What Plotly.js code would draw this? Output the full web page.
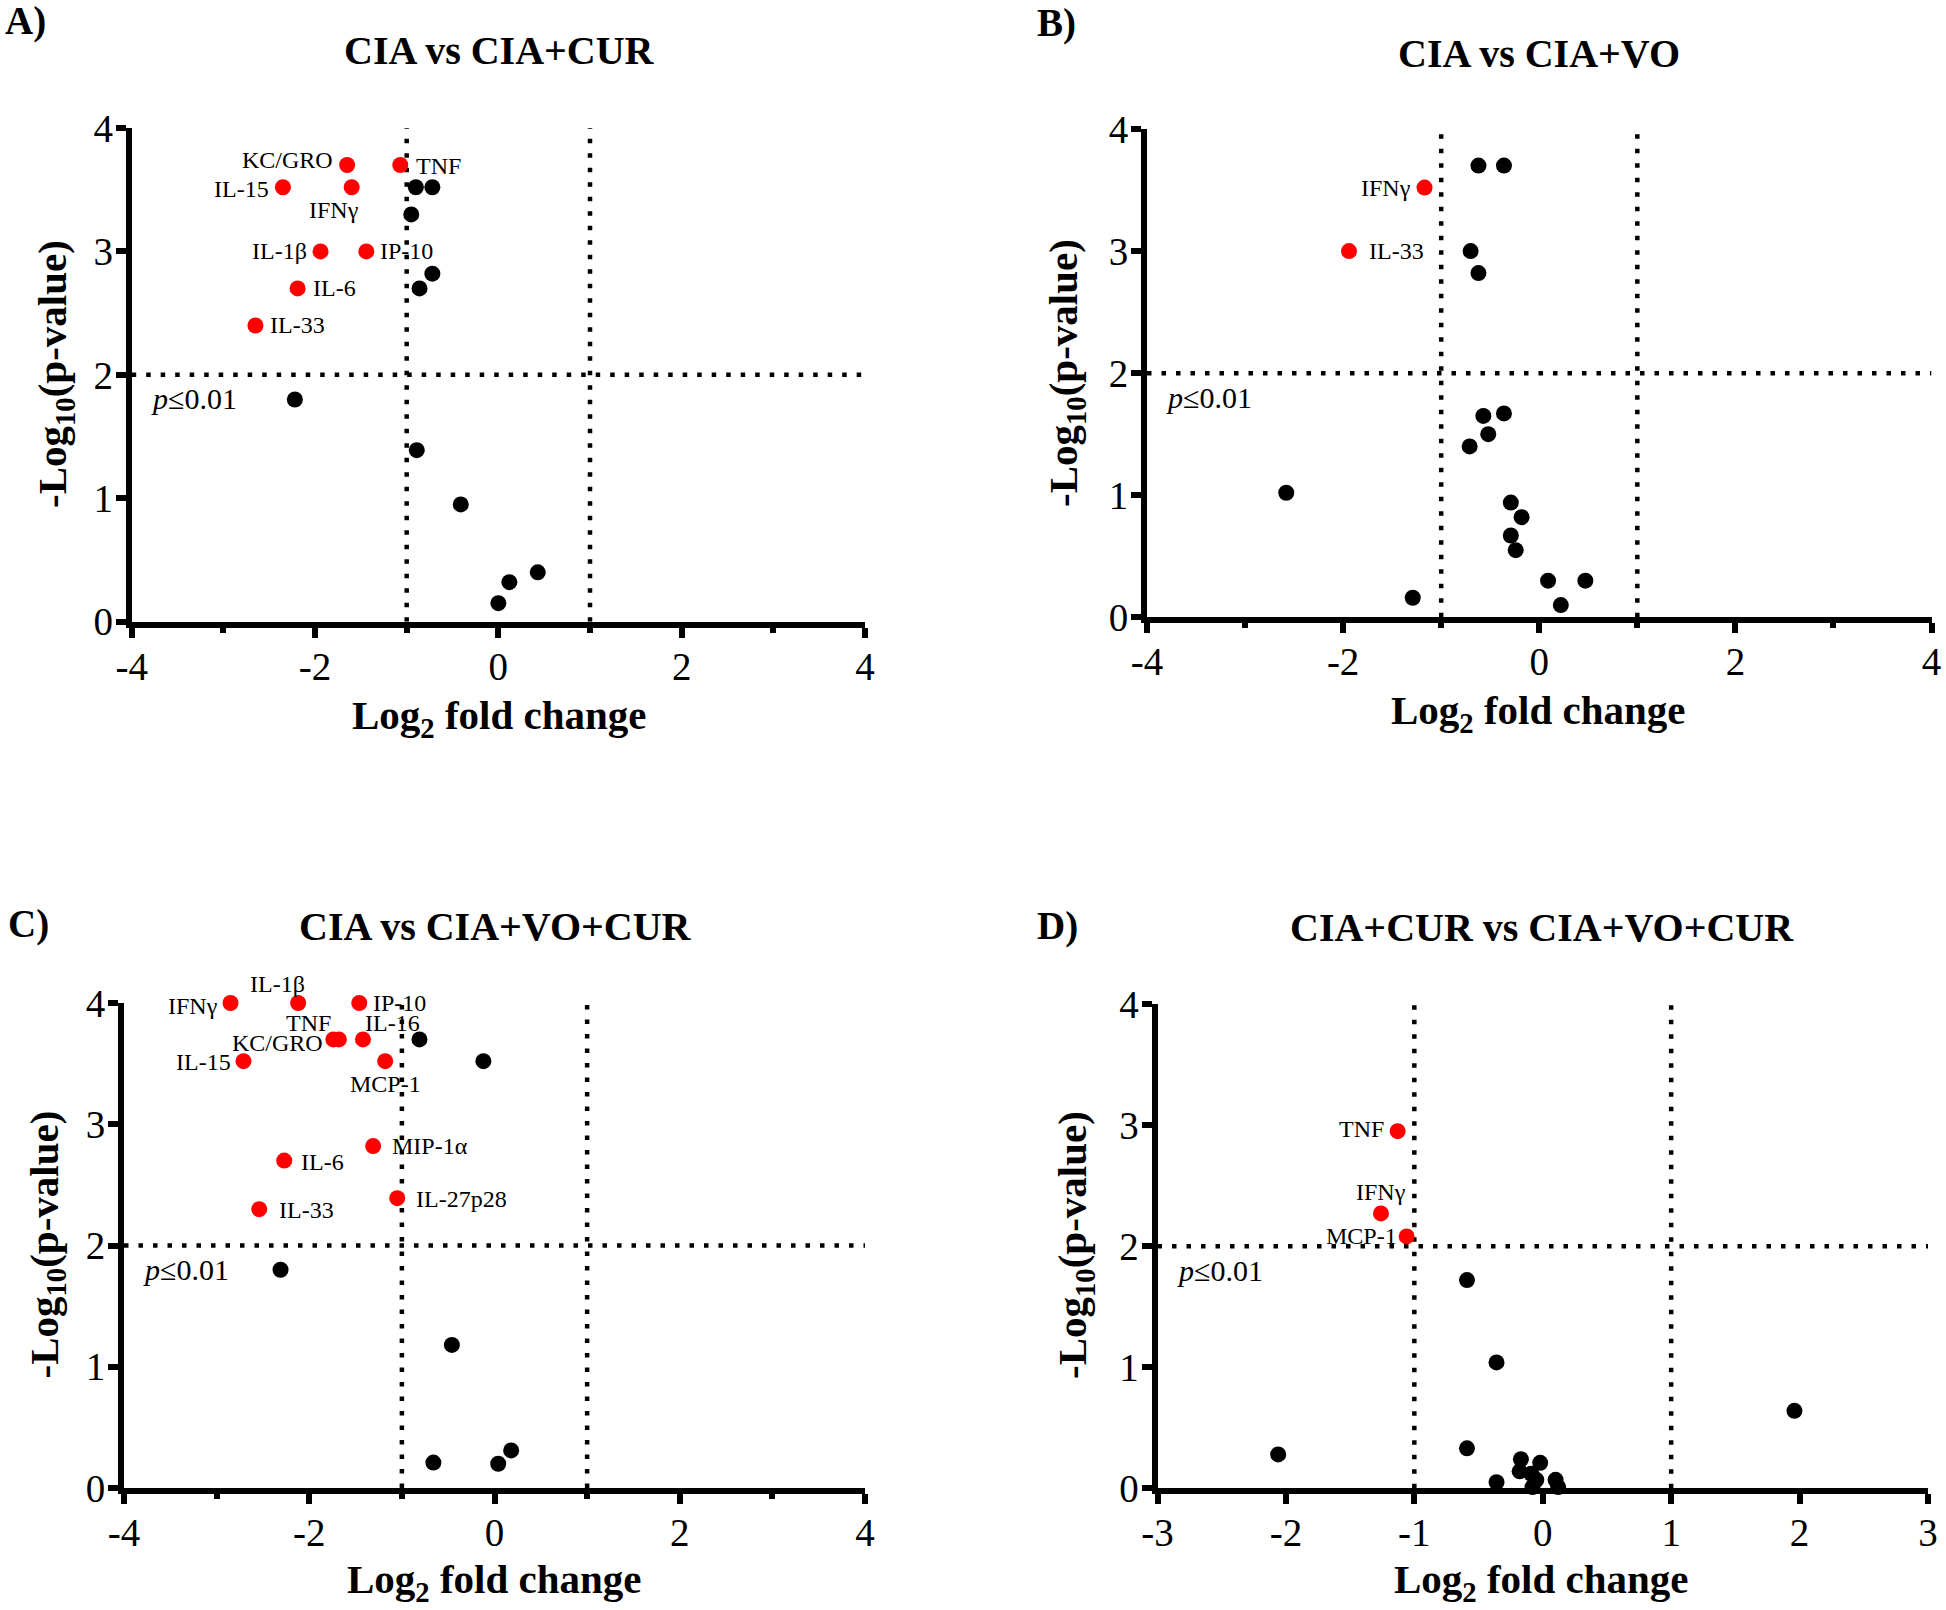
<!DOCTYPE html>
<html>
<head>
<meta charset="utf-8">
<script src="https://cdn.plot.ly/plotly-3.0.1.min.js"></script>
<style>
  html, body { margin: 0; padding: 0; background: #fff; }
  #chart { width: 1946px; height: 1610px; }
</style>
</head>
<body>
<div id="chart"></div>
<script>
'use strict';

// A) CIA vs CIA+CUR
var aSigNames = ['KC/GRO', 'TNF', 'IL-15', 'IFNγ', 'IL-1β', 'IP-10', 'IL-6', 'IL-33'];
var aSigFC = [-1.65, -1.07, -2.35, -1.60, -1.94, -1.44, -2.19, -2.65];
var aSigP = [3.70, 3.70, 3.52, 3.52, 3.00, 3.00, 2.70, 2.40];
var aNsFC = [-0.90, -0.72, -0.95, -0.72, -0.86, -2.22, -0.89, -0.41, 0.43, 0.12, 0.00];
var aNsP = [3.52, 3.52, 3.30, 2.82, 2.70, 1.80, 1.39, 0.95, 0.40, 0.32, 0.15];

// B) CIA vs CIA+VO
var bSigNames = ['IFNγ', 'IL-33'];
var bSigFC = [-1.17, -1.94];
var bSigP = [3.52, 3.00];
var bNsFC = [-0.62, -0.36, -0.70, -0.62, -0.57, -0.36, -0.52, -0.71, -2.58, -0.29, -0.18, -0.29, -0.24, 0.09, 0.47, 0.22, -1.29];
var bNsP = [3.70, 3.70, 3.00, 2.82, 1.65, 1.67, 1.50, 1.40, 1.02, 0.94, 0.82, 0.67, 0.55, 0.30, 0.30, 0.10, 0.16];

// C) CIA vs CIA+VO+CUR
var cSigNames = ['IFNγ', 'IL-1β', 'IP-10', 'TNF', 'KC/GRO', 'IL-16', 'IL-15', 'MCP-1', 'MIP-1α', 'IL-6', 'IL-27p28', 'IL-33'];
var cSigFC = [-2.85, -2.12, -1.46, -1.68, -1.74, -1.42, -2.71, -1.18, -1.31, -2.27, -1.05, -2.54];
var cSigP = [4.00, 4.00, 4.00, 3.70, 3.70, 3.70, 3.52, 3.52, 2.82, 2.70, 2.39, 2.30];
var cNsFC = [-0.81, -0.12, -2.31, -0.46, -0.66, 0.04, 0.18];
var cNsP = [3.70, 3.52, 1.80, 1.18, 0.21, 0.20, 0.31];

// D) CIA+CUR vs CIA+VO+CUR
var dSigNames = ['TNF', 'IFNγ', 'MCP-1'];
var dSigFC = [-1.13, -1.26, -1.06];
var dSigP = [2.95, 2.27, 2.08];
var dNsFC = [-0.59, -0.36, 1.96, -2.06, -0.59, -0.17, -0.02, -0.18, -0.09, -0.05, -0.08, 0.10, 0.12, -0.36];
var dNsP = [1.72, 1.04, 0.64, 0.28, 0.33, 0.24, 0.21, 0.14, 0.12, 0.07, 0.01, 0.07, 0.01, 0.05];

// tick labels (hyphen minus as in the original figure)
var xTicksWide = [-4, -2, 0, 2, 4];
var xTicksWideText = ['-4', '-2', '0', '2', '4'];
var xTicksNarrow = [-3, -2, -1, 0, 1, 2, 3];
var xTicksNarrowText = ['-3', '-2', '-1', '0', '1', '2', '3'];
var yTicks = [0, 1, 2, 3, 4];
var yTicksText = ['0', '1', '2', '3', '4'];

var panelTitles = ['CIA vs CIA+CUR', 'CIA vs CIA+VO', 'CIA vs CIA+VO+CUR', 'CIA+CUR vs CIA+VO+CUR'];
var panelLetters = ['A)', 'B)', 'C)', 'D)'];

var W = 1946, H = 1610;
var RED = '#ff0000';
var FONT = 'Liberation Serif, Times New Roman, serif';

// label placement for each significant point: anchor, x shift, y shift (pixels)
var labelPos = [
  [['right', -12, 5], ['left', 14, -1], ['right', -12, -2], ['center', -18, -23],
   ['right', -12, 0], ['left', 12, 0], ['left', 13, 0], ['left', 13, 0]],
  [['right', -12, 0], ['left', 18, 0]],
  [['right', -11, -3], ['center', -21, 19], ['left', 12, 0], ['right', -6, 16],
   ['right', -8, -4], ['left', 0, 16], ['right', -10, -1], ['center', 0, -23],
   ['left', 17, 0], ['left', 15, -1], ['left', 17, -1], ['left', 18, -1]],
  [['right', -12, 2], ['center', 0, 21], ['right', -8, 0]]
];

// plot boxes in pixels: left, right, top, bottom
var boxes = [
  {l: 131.7, r: 865, t: 128, b: 621.7, xr: [-4, 4], tv: xTicksWide, tt: xTicksWideText, minor: 1},
  {l: 1147, r: 1931.5, t: 129, b: 617.3, xr: [-4, 4], tv: xTicksWide, tt: xTicksWideText, minor: 1},
  {l: 124, r: 865, t: 1003, b: 1488, xr: [-4, 4], tv: xTicksWide, tt: xTicksWideText, minor: 1},
  {l: 1157.5, r: 1928, t: 1004, b: 1488.3, xr: [-3, 3], tv: xTicksNarrow, tt: xTicksNarrowText, minor: 0}
];

// positions of the surrounding text (pixel centres)
var titlePos = [[499, 51], [1538.5, 54], [495.5, 926], [1542, 928]];
var letterPos = [[3, 21], [1035, 23], [6, 924], [1035, 926]];
var yTitlePos = [[55, 374], [1066, 373], [46.5, 1245], [1075, 1245]];
var xTitlePos = [[499, 718], [1538.5, 713], [494, 1582], [1541.6, 1582]];

var sig = [[aSigFC, aSigP, aSigNames], [bSigFC, bSigP, bSigNames], [cSigFC, cSigP, cSigNames], [dSigFC, dSigP, dSigNames]];
var ns = [[aNsFC, aNsP], [bNsFC, bNsP], [cNsFC, cNsP], [dNsFC, dNsP]];

function px(x) { return x / W; }
function py(y) { return 1 - y / H; }

var traces = [];
var shapes = [];
var annotations = [];
var layout = {
  width: W, height: H,
  margin: {l: 0, r: 0, t: 0, b: 0},
  paper_bgcolor: '#fff', plot_bgcolor: '#fff',
  showlegend: false,
  font: {family: FONT, color: '#000'}
};

for (var i = 0; i < 4; i++) {
  var n = i === 0 ? '' : String(i + 1);
  var xa = 'x' + n, ya = 'y' + n;
  var bx = boxes[i];

  var xaxis = {
    domain: [px(bx.l), px(bx.r)], range: bx.xr, anchor: ya,
    tickmode: 'array', tickvals: bx.tv, ticktext: bx.tt,
    showgrid: false, zeroline: false,
    showline: true, linewidth: 6, linecolor: '#000',
    ticks: 'outside', ticklen: 10, tickwidth: 6, tickcolor: '#000',
    ticklabelstandoff: -5,
    tickfont: {family: FONT, size: 39, color: '#000'}, fixedrange: true
  };
  if (bx.minor) {
    xaxis.minor = {dtick: bx.minor, tick0: 0, ticks: 'outside', ticklen: 5, tickwidth: 6, tickcolor: '#000', showgrid: false};
  }
  var yaxis = {
    domain: [py(bx.b), py(bx.t)], range: [0, 4], anchor: xa,
    tickmode: 'array', tickvals: yTicks, ticktext: yTicksText,
    showgrid: false, zeroline: false,
    showline: true, linewidth: 6, linecolor: '#000',
    ticks: 'outside', ticklen: 10, tickwidth: 6, tickcolor: '#000',
    ticklabelstandoff: -5,
    tickfont: {family: FONT, size: 39, color: '#000'}, fixedrange: true
  };
  layout['xaxis' + n] = xaxis;
  layout['yaxis' + n] = yaxis;

  // non significant points
  traces.push({
    type: 'scatter', mode: 'markers', x: ns[i][0], y: ns[i][1],
    xaxis: xa, yaxis: ya, cliponaxis: false, hoverinfo: 'skip',
    marker: {size: 16, color: '#000'}
  });
  // significant points (red)
  traces.push({
    type: 'scatter', mode: 'markers', x: sig[i][0], y: sig[i][1], text: sig[i][2],
    xaxis: xa, yaxis: ya, cliponaxis: false,
    marker: {size: 16, color: RED}
  });

  // threshold lines
  var dotted = {color: '#000', width: 4.5, dash: '4.5px,10px'};
  [-1, 1].forEach(function (v) {
    shapes.push({type: 'line', xref: xa, yref: ya, x0: v, x1: v, y0: 0, y1: 4, line: dotted, layer: 'below'});
  });
  shapes.push({type: 'line', xref: xa, yref: ya, x0: bx.xr[0], x1: bx.xr[1], y0: 2, y1: 2, line: dotted, layer: 'below'});

  // labels of the red points
  for (var k = 0; k < sig[i][2].length; k++) {
    var lp = labelPos[i][k];
    annotations.push({
      xref: xa, yref: ya, x: sig[i][0][k], y: sig[i][1][k],
      text: sig[i][2][k], showarrow: false,
      xanchor: lp[0], yanchor: 'middle', xshift: lp[1], yshift: lp[2],
      font: {family: FONT, size: 24, color: '#000'}
    });
  }

  // p threshold label
  annotations.push({
    xref: xa, yref: ya, x: bx.xr[0], y: 2, text: '<i>p</i>≤0.01', showarrow: false,
    xanchor: 'left', yanchor: 'middle', xshift: 17, yshift: -24,
    font: {family: FONT, size: 30, color: '#000'}
  });

  // panel title and letter
  annotations.push({
    xref: 'paper', yref: 'paper', x: px(titlePos[i][0]), y: py(titlePos[i][1]),
    text: '<b>' + panelTitles[i] + '</b>', showarrow: false,
    xanchor: 'center', yanchor: 'middle', font: {family: FONT, size: 40, color: '#000'}
  });
  annotations.push({
    xref: 'paper', yref: 'paper', x: px(letterPos[i][0]), y: py(letterPos[i][1]),
    text: '<b>' + panelLetters[i] + '</b>', showarrow: false,
    xanchor: 'left', yanchor: 'middle', font: {family: FONT, size: 39, color: '#000'}
  });

  // axis titles
  annotations.push({
    xref: 'paper', yref: 'paper', x: px(yTitlePos[i][0]), y: py(yTitlePos[i][1]),
    text: '<b>-Log<sub>10</sub>(p-value)</b>', showarrow: false, textangle: -90,
    xanchor: 'center', yanchor: 'middle', font: {family: FONT, size: 41, color: '#000'}
  });
  annotations.push({
    xref: 'paper', yref: 'paper', x: px(xTitlePos[i][0]), y: py(xTitlePos[i][1]),
    text: '<b>Log<sub>2</sub> fold change</b>', showarrow: false,
    xanchor: 'center', yanchor: 'middle', font: {family: FONT, size: 41, color: '#000'}
  });
}

layout.shapes = shapes;
layout.annotations = annotations;

Plotly.newPlot('chart', traces, layout, {displayModeBar: false, staticPlot: true});
</script>
</body>
</html>
